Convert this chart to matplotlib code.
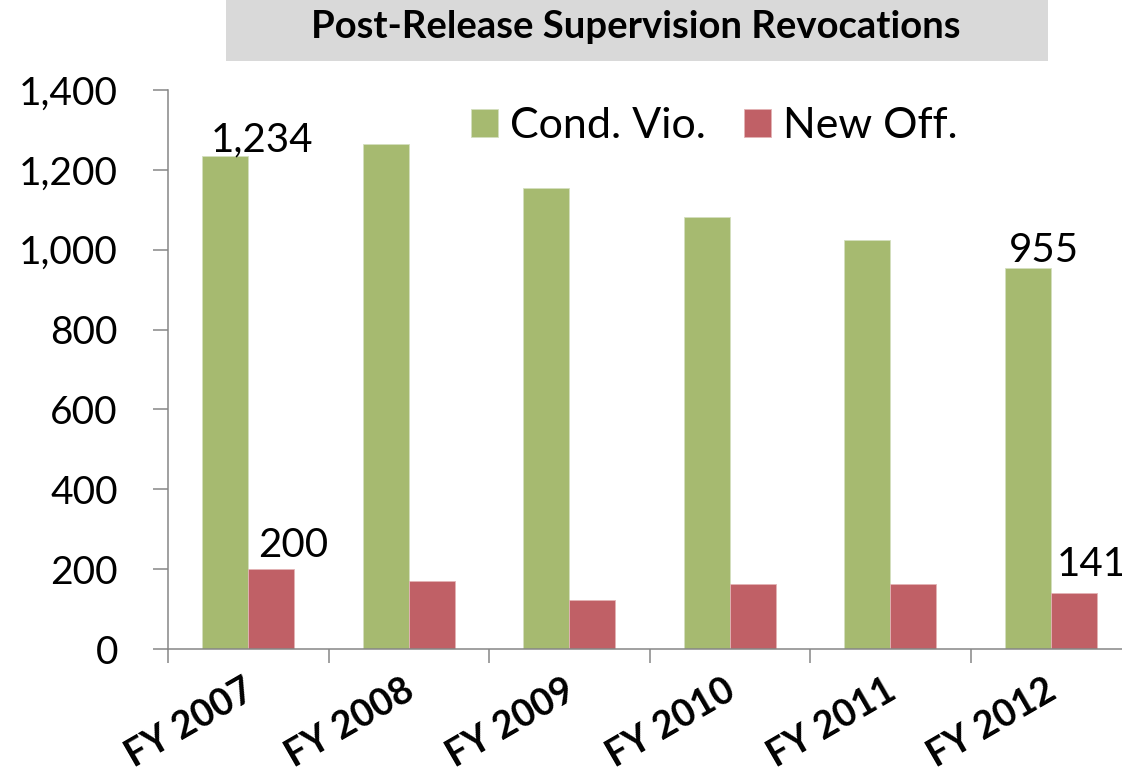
import matplotlib
matplotlib.use('Agg')
import matplotlib.pyplot as plt
import matplotlib.transforms as mtransforms
from matplotlib.patches import Rectangle
import numpy as np

years = ['FY 2007', 'FY 2008', 'FY 2009', 'FY 2010', 'FY 2011', 'FY 2012']
cond_vio = [1234, 1266, 1154, 1083, 1024, 955]
new_off = [200, 171, 122, 162, 162, 141]
series_names = ['Cond. Vio.', 'New Off.']
yticks = [0, 200, 400, 600, 800, 1000, 1200, 1400]

green = '#A6BA70'
red = '#C06066'
axis_gray = '#868686'

plt.rcParams['font.family'] = ['Lato', 'DejaVu Sans']

fig = plt.figure(figsize=(11.22, 7.71), dpi=100)
ax = fig.add_axes([168 / 1122, 122 / 771, 963 / 1122, 559 / 771])

x = np.arange(len(years))
w = 0.287
b1 = ax.bar(x - w / 2, cond_vio, w, color=green, edgecolor='#d4dfbf', linewidth=0.6,
            label=series_names[0])
b2 = ax.bar(x + w / 2, new_off, w, color=red, edgecolor='#e3b3b5', linewidth=0.6,
            label=series_names[1])

ax.set_xlim(-0.5, len(years) - 0.5)
ax.set_ylim(0, 1400)

ax.set_yticks(yticks)
ax.set_yticklabels(['{:,}'.format(v) for v in yticks])
ax.tick_params(axis='y', length=11, width=1.1, color=axis_gray, pad=25, labelsize=28)

# labels at category centres, tick marks at the category boundaries
ax.set_xticks(x)
ax.set_xticklabels(years, fontweight='bold', rotation=30, ha='right',
                   rotation_mode='anchor')
ax.tick_params(axis='x', which='major', length=0, pad=17, labelsize=27)
ax.set_xticks(np.arange(len(years) + 1) - 0.5, minor=True)
ax.tick_params(axis='x', which='minor', length=10, width=1.1, color=axis_gray)
shift = mtransforms.ScaledTranslation(-6 / 100, 0, fig.dpi_scale_trans)
for lab in ax.get_xticklabels():
    lab.set_transform(lab.get_transform() + shift)

for s in ['top', 'right']:
    ax.spines[s].set_visible(False)
for s in ['left', 'bottom']:
    ax.spines[s].set_color(axis_gray)
    ax.spines[s].set_linewidth(1.1)

# data labels on first and last years only
def label(bar, val, dx, dy):
    ax.annotate('{:,}'.format(val), (bar.get_x(), bar.get_height()),
                xytext=(dx, dy), textcoords='offset pixels',
                ha='left', va='baseline', fontsize=29)

label(b1[0], cond_vio[0], 9, 5)
label(b2[0], new_off[0], 10, 12)
label(b1[-1], cond_vio[-1], 4, 6)
label(b2[-1], new_off[-1], 6, 17)

ax.legend(loc='upper left', bbox_to_anchor=(471 / 1122, 1 - 107 / 771),
          bbox_transform=fig.transFigure, ncol=2, frameon=False, fontsize=31,
          handlelength=0.63, handleheight=0.63, handletextpad=0.28,
          columnspacing=0.88, borderpad=0, borderaxespad=0)

# grey title banner
fig.patches.append(Rectangle((226 / 1122, 1 - 61 / 771), 822 / 1122, 61 / 771,
                             transform=fig.transFigure, facecolor='#D9D9D9',
                             edgecolor='none', zorder=0))
fig.text(636 / 1122, 1 - 38 / 771, 'Post-Release Supervision Revocations',
         ha='center', va='baseline', fontsize=27.5, fontweight='bold')

fig.savefig('out.png', dpi=100)
